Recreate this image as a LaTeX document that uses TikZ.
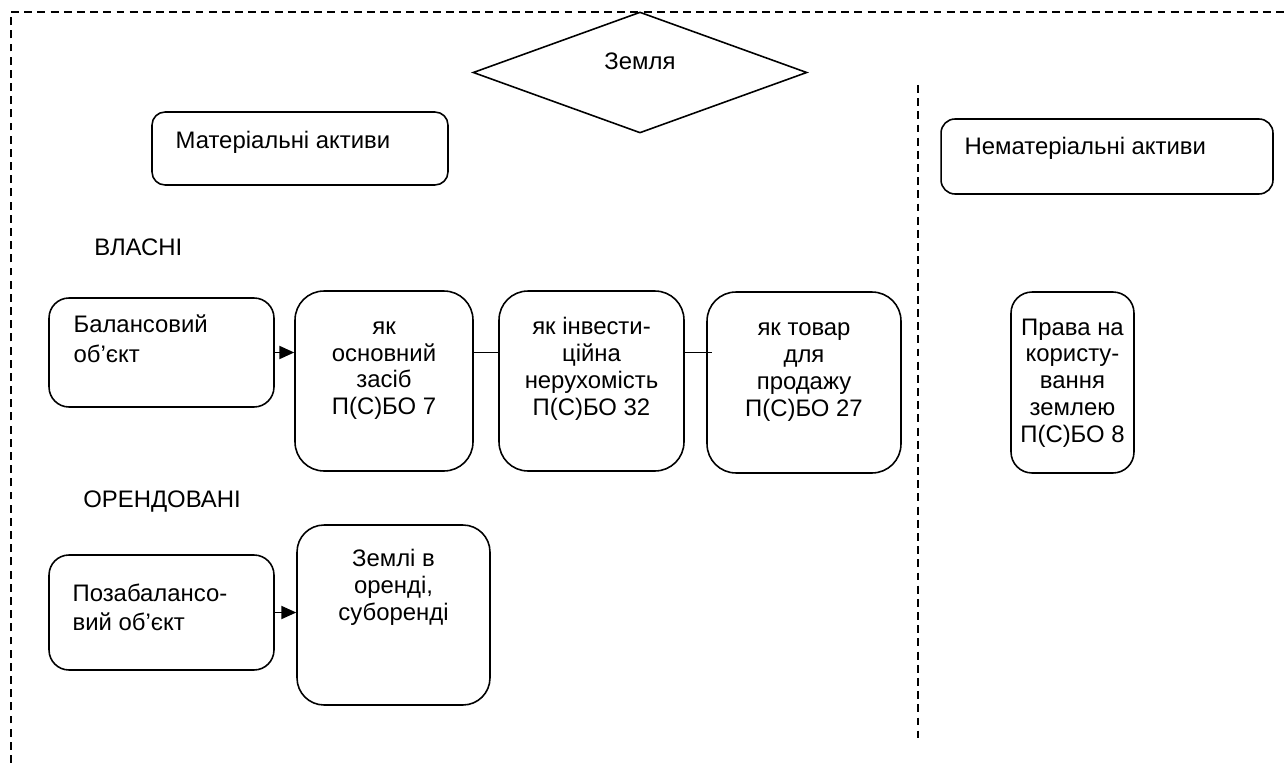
\documentclass[tikz,border=0pt]{standalone}
\usepackage{fontspec}
\setmainfont{Liberation Sans}
\usetikzlibrary{positioning,arrows.meta,shapes.geometric}

\begin{document}
\begin{tikzpicture}[
  x=0.02cm, y=-0.02cm,
  font=\fontsize{13.6}{15.3}\selectfont,
  box/.style={draw, line width=0.9pt, inner sep=0pt},
  txt/.style={align=center, inner sep=0pt},
  txtl/.style={align=left, inner sep=0pt, font=\fontsize{13.6}{17}\selectfont},
  lbl/.style={inner sep=0pt, anchor=base west},
  flow/.style={-{Triangle[length=8.5pt, width=7.5pt]}, line width=0.8pt},
  link/.style={line width=0.8pt},
  frame/.style={line width=0.8pt, dash pattern=on 4.5pt off 3pt},
]
\useasboundingbox (0,0) rectangle (1287,763);

% outer frame and divider
\draw[frame] (11,763) -- (11,12) -- (1287,12);
\draw[frame] (918,85) -- (918,738);

% top
\node[box, diamond, minimum width=6.68cm, minimum height=2.42cm] (zem) at (640,72.5) {};
\node[txt, anchor=base] (zemT) at ([yshift=1.5pt]zem.center) {Земля};

\node[box, rounded corners=0.26cm, minimum width=5.92cm, minimum height=1.46cm] (mat) at (300,148.5) {};
\node[txtl, below right=0.4cm and 0.48cm of mat.north west] (matT) {Матеріальні активи};
\node[box, rounded corners=0.28cm, minimum width=6.64cm, minimum height=1.5cm] (nonmat) at (1107,156.5) {};
\node[txtl, below right=0.38cm and 0.48cm of nonmat.north west] (nonmatT) {Нематеріальні активи};

% own land
\node[lbl] (own) at (94,256) {ВЛАСНІ};
\node[box, rounded corners=0.4cm, minimum width=4.5cm, minimum height=2.18cm] (bal) at (161.5,352.5) {};
\node[txtl, below right=0.34cm and 0.5cm of bal.north west] (balT) {Балансовий\\об’єкт};

\node[box, rounded corners=0.58cm, minimum width=3.56cm, minimum height=3.6cm] (osn) at (384,381) {};
\node[txt, below=0.62cm of osn.north] (osnT) {як\\основний\\засіб\\П(С)БО 7};
\node[box, rounded corners=0.58cm, minimum width=3.7cm, minimum height=3.6cm] (inv) at (591.5,381) {};
\node[txt, below=0.54cm of inv.north] (invT) {як інвести-\\ційна\\нерухомість\\П(С)БО 32};
\node[box, rounded corners=0.58cm, minimum width=3.88cm, minimum height=3.62cm] (tov) at (804,382.5) {};
\node[txt, below=0.62cm of tov.north] (tovT) {як товар\\для\\продажу\\П(С)БО 27};

\node[box, rounded corners=0.42cm, minimum width=2.46cm, minimum height=3.62cm] (prava) at (1072.5,382.5) {};
\node[txt, below=0.54cm of prava.north] (pravaT) {Права на\\користу-\\вання\\землею\\П(С)БО 8};

% leased land
\node[lbl] (leased) at (83,507) {ОРЕНДОВАНІ};
\node[box, rounded corners=0.4cm, minimum width=4.5cm, minimum height=2.3cm] (off) at (161.5,612.5) {};
\node[txtl, below right=0.58cm and 0.48cm of off.north west] (offT) {Позабалансо-\\вий об’єкт};
\node[box, rounded corners=0.54cm, minimum width=3.86cm, minimum height=3.6cm] (land) at (393.5,615) {};
\node[txt, below=0.5cm of land.north] (landT) {Землі в\\оренді,\\суборенді};

\draw[flow] (bal.east) -- (bal.east -| osn.west);
\draw[link] (bal.east -| osn.east) -- (bal.east -| inv.west);
\draw[link] (bal.east -| inv.east) -- ([xshift=3pt]bal.east -| tov.west);
\draw[flow] (off.east) -- (off.east -| land.west);
\end{tikzpicture}
\end{document}
